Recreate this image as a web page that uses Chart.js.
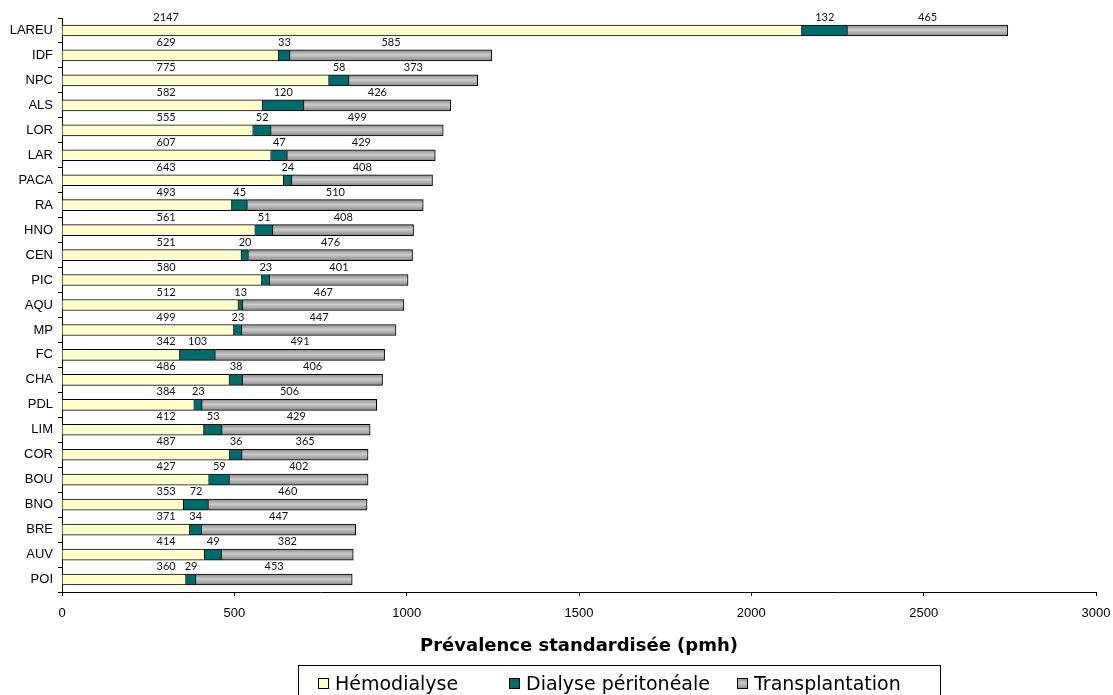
<!DOCTYPE html>
<html>
<head>
<meta charset="utf-8">
<script src="https://cdn.jsdelivr.net/npm/chart.js@4/dist/chart.umd.min.js"></script>
<style>
  html, body { margin: 0; padding: 0; background: #ffffff; }
  #c { display: block; }
</style>
</head>
<body>
<canvas id="c" width="1113" height="695"></canvas>
<script>
// Régions, de la plus forte à la plus faible prévalence totale
const regions = ['LAREU','IDF','NPC','ALS','LOR','LAR','PACA','RA','HNO','CEN','PIC','AQU','MP','FC','CHA','PDL','LIM','COR','BOU','BNO','BRE','AUV','POI'];

// Prévalence standardisée (pmh) par modalité de traitement
const hemodialyse        = [2147, 629, 775, 582, 555, 607, 643, 493, 561, 521, 580, 512, 499, 342, 486, 384, 412, 487, 427, 353, 371, 414, 360];
const dialysePeritoneale = [ 132,  33,  58, 120,  52,  47,  24,  45,  51,  20,  23,  13,  23, 103,  38,  23,  53,  36,  59,  72,  34,  49,  29];
const transplantation    = [ 465, 585, 373, 426, 499, 429, 408, 510, 408, 476, 401, 467, 447, 491, 406, 506, 429, 365, 402, 460, 447, 382, 453];

const xTicks = [0, 500, 1000, 1500, 2000, 2500, 3000];
const seriesNames = ['Hémodialyse', 'Dialyse péritonéale', 'Transplantation'];

const HEMO_FILL = '#ffffcc';
const DP_FILL = '#006b6b';
const HEMO_LABEL_AT = 302; // les étiquettes d'hémodialyse sont alignées à gauche des barres

const AXIS_FONT = '"Liberation Sans", Arial, sans-serif';
const LABEL_FONT = 'Lato, "Liberation Sans", sans-serif';
const TITLE_FONT = '"DejaVu Sans", sans-serif';

function grayGradient(ctx, top, bottom) {
  const g = ctx.createLinearGradient(0, top, 0, bottom);
  g.addColorStop(0, '#8a8a8a');
  g.addColorStop(0.45, '#cbcbcb');
  g.addColorStop(1, '#878787');
  return g;
}

function transplantFill(context) {
  const chart = context.chart;
  const y = chart.scales && chart.scales.y;
  if (!y || context.type !== 'data') return '#aaaaaa';
  const c = y.getPixelForValue(context.dataIndex);
  if (!isFinite(c)) return '#aaaaaa';
  return grayGradient(chart.ctx, c - 5.5, c + 5.5);
}

// Valeurs écrites au-dessus de chaque segment
const valueLabels = {
  id: 'valueLabels',
  afterDatasetsDraw(chart) {
    const ctx = chart.ctx;
    const x = chart.scales.x;
    ctx.save();
    ctx.font = '11px ' + LABEL_FONT;
    ctx.fillStyle = '#111111';
    ctx.textAlign = 'center';
    ctx.textBaseline = 'middle';
    const series = [hemodialyse, dialysePeritoneale, transplantation];
    series.forEach((values, k) => {
      const meta = chart.getDatasetMeta(k);
      meta.data.forEach((bar, i) => {
        const cx = k === 0 ? x.getPixelForValue(HEMO_LABEL_AT) : (bar.x + bar.base) / 2;
        ctx.fillText(String(values[i]), cx, bar.y - 13);
      });
    });
    ctx.restore();
  }
};

// Légende encadrée sous le titre de l'axe
const boxedLegend = {
  id: 'boxedLegend',
  afterDraw(chart) {
    const ctx = chart.ctx;
    ctx.save();
    ctx.strokeStyle = '#000000';
    ctx.lineWidth = 1;
    ctx.strokeRect(298.5, 665.5, 642, 40);
    const items = [
      { x: 318, fill: HEMO_FILL },
      { x: 509, fill: DP_FILL },
      { x: 737, fill: null }
    ];
    ctx.font = '19px ' + TITLE_FONT;
    ctx.textBaseline = 'middle';
    ctx.textAlign = 'left';
    items.forEach((it, i) => {
      const top = 678, size = 11;
      ctx.fillStyle = it.fill || grayGradient(ctx, top, top + size);
      ctx.fillRect(it.x, top, size, size);
      ctx.strokeRect(it.x + 0.5, top + 0.5, size - 1, size - 1);
      ctx.fillStyle = '#000000';
      ctx.fillText(seriesNames[i], it.x + 17, 685);
    });
    ctx.restore();
  }
};

const barStyle = {
  borderColor: '#000000',
  borderWidth: 1,
  borderSkipped: 'start',
  barThickness: 11
};

function drawChart() {
  new Chart(document.getElementById('c'), {
    type: 'bar',
    data: {
      labels: regions,
      datasets: [
        Object.assign({ label: seriesNames[0], data: hemodialyse, backgroundColor: HEMO_FILL }, barStyle),
        Object.assign({ label: seriesNames[1], data: dialysePeritoneale, backgroundColor: DP_FILL }, barStyle),
        Object.assign({ label: seriesNames[2], data: transplantation, backgroundColor: transplantFill }, barStyle)
      ]
    },
    options: {
      indexAxis: 'y',
      responsive: false,
      animation: false,
      devicePixelRatio: 1,
      layout: { padding: { top: 18, right: 17, left: 0, bottom: 0 } },
      plugins: {
        legend: { display: false },
        tooltip: { enabled: false }
      },
      scales: {
        x: {
          stacked: true,
          min: 0,
          max: 3000,
          afterBuildTicks(scale) { scale.ticks = xTicks.map(v => ({ value: v })); },
          afterFit(scale) {
            scale.height = 103;
            scale.paddingLeft = 0;
            scale.paddingRight = 0;
          },
          ticks: {
            color: '#000000',
            font: { family: AXIS_FONT, size: 13 },
            padding: 10,
            callback: v => String(v)
          },
          grid: { drawOnChartArea: false, drawTicks: true, tickLength: 4, color: '#000000' },
          border: { color: '#000000', width: 1 },
          title: {
            display: true,
            text: 'Prévalence standardisée (pmh)',
            color: '#000000',
            font: { family: TITLE_FONT, size: 18, weight: 'bold' },
            padding: { top: 0, bottom: 38 }
          }
        },
        y: {
          stacked: true,
          afterFit(scale) { scale.width = 62; },
          ticks: {
            color: '#000000',
            font: { family: AXIS_FONT, size: 13 },
            padding: 5
          },
          grid: { offset: true, drawOnChartArea: false, drawTicks: true, tickLength: 4, color: '#000000' },
          border: { color: '#000000', width: 1 }
        }
      }
    },
    plugins: [valueLabels, boxedLegend]
  });
}

Promise.all([
  document.fonts.load('13px "Liberation Sans"'),
  document.fonts.load('11px Lato'),
  document.fonts.load('19px "DejaVu Sans"'),
  document.fonts.load('bold 18px "DejaVu Sans"')
]).then(drawChart, drawChart);
</script>
</body>
</html>
